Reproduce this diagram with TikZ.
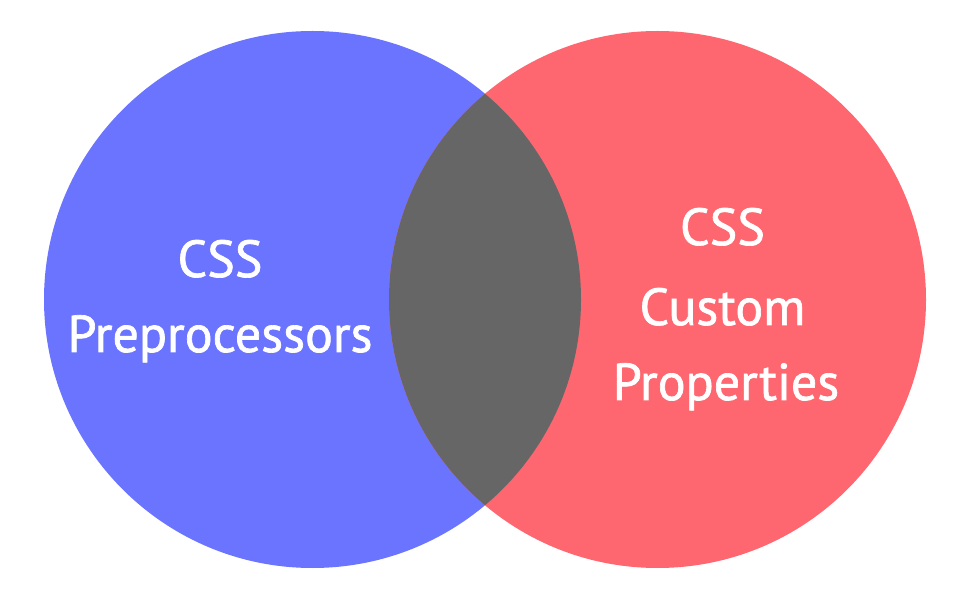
\documentclass[tikz,border=0pt]{standalone}
\usepackage{fontspec}
\setmainfont{PT Sans}
\newfontfamily\setfont{PT Sans}[FakeBold=1.3]
\usepackage{xcolor}
\usepackage{tikz}
\usetikzlibrary{positioning}

\definecolor{preblue}{RGB}{107,116,255}
\definecolor{propred}{RGB}{255,103,112}
\definecolor{overlapgray}{RGB}{102,102,102}

\begin{document}
\begin{tikzpicture}[
    x=1pt, y=1pt,
    setcircle/.style={circle, draw=none, minimum size=537pt, inner sep=0pt},
    label/.style={text=white, font=\setfont\fontsize{52}{60}\selectfont, anchor=base, inner sep=0pt},
]
\useasboundingbox (0,0) rectangle (967,603);

\node[setcircle, fill=preblue] (pre) at (312.5,303.5) {};
\node[setcircle, fill=propred] (prop) at (657.5,303.5) {};

% overlap of the two sets
\begin{scope}
    \clip (pre.center) circle (268.5);
    \fill[overlapgray] (prop.center) circle (268.5);
\end{scope}

\node[label] (pre1) at (220,326) {CSS};
\node[label] (pre2) at (220,251) {Preprocessors};

\node[label] (prop1) at (722.5,358) {CSS};
\node[label] (prop2) at (722.5,278) {Custom};
\node[label] (prop3) at (726,203) {Properties};

\end{tikzpicture}
\end{document}
